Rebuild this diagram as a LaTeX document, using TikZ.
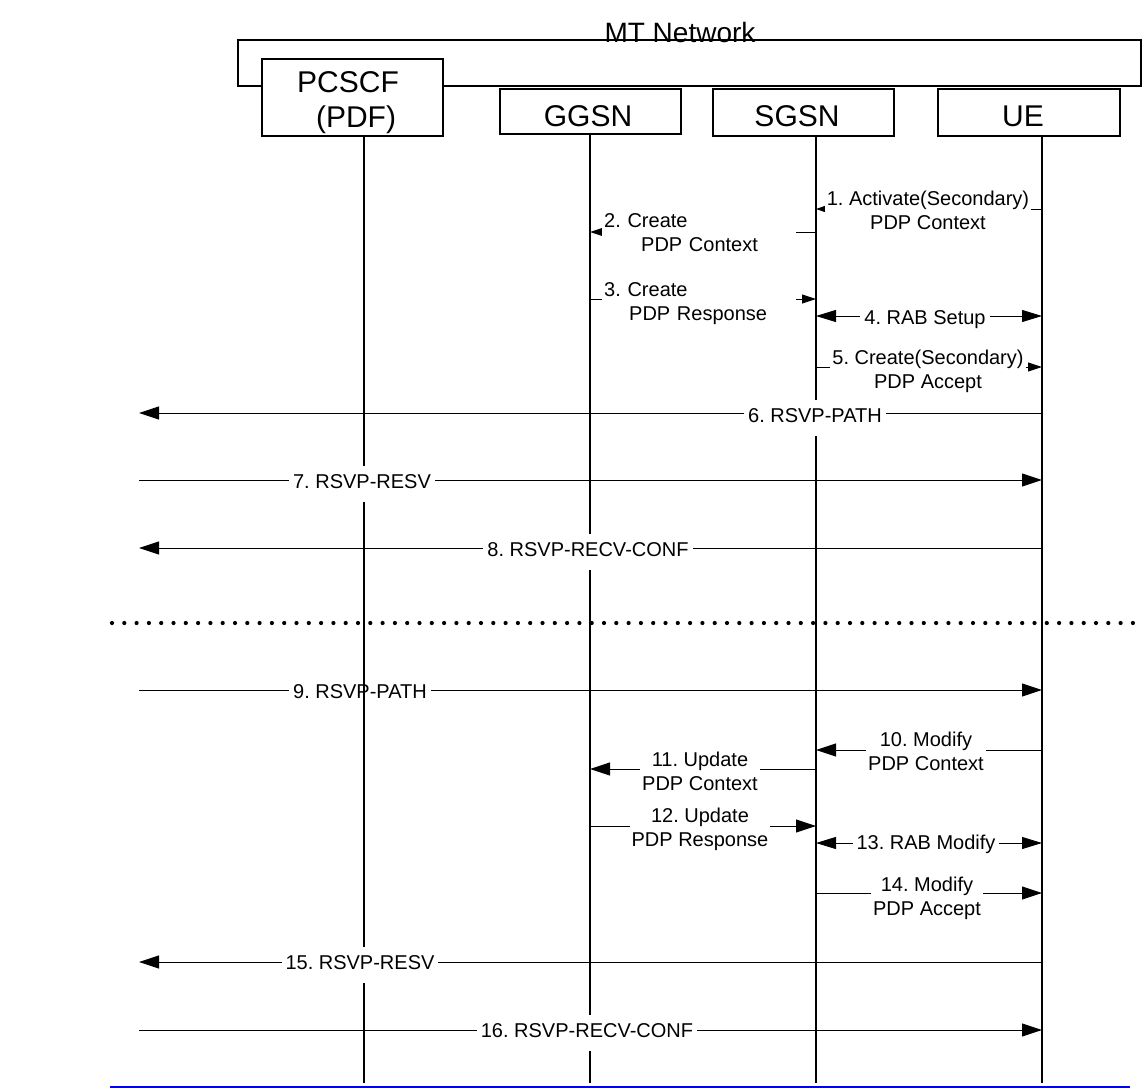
\documentclass[tikz,border=0pt]{standalone}
\usepackage{fontspec}
\setmainfont{Liberation Sans}
\usetikzlibrary{arrows.meta}
\frenchspacing

\begin{document}
\begin{tikzpicture}[x=1pt,y=-1pt,
  entity/.style={draw, line width=1.6pt, fill=white, inner sep=0pt},
  hdr/.style={font=\fontsize{30}{35}\selectfont, inner sep=0pt, anchor=base},
  life/.style={line width=1.4pt},
  msgline/.style={line width=0.9pt},
  lbl/.style={fill=white, inner xsep=4pt, inner ysep=6pt, font=\fontsize{20}{24}\selectfont},
  lbltwo/.style={fill=white, inner xsep=2pt, inner ysep=1pt, align=center, font=\fontsize{20}{24}\selectfont},
  tipS/.style={-{Triangle[length=9pt,width=6pt]}},
  tipM/.style={-{Triangle[length=14pt,width=9pt]}},
  tipB/.style={-{Triangle[length=20pt,width=13pt]}},
  tipBoth/.style={{Triangle[length=20pt,width=12pt]}-{Triangle[length=20pt,width=12pt]}},
  dotline/.style={line width=4.2pt, line cap=round, dash pattern=on 0pt off 12.3pt},
]
\useasboundingbox (0,0) rectangle (1143,1089);

% network frame and entities
\node[draw, line width=1.6pt, minimum width=903pt, minimum height=46pt, inner sep=0pt] (mtnet) at (689.5,63) {};
\node[hdr, font=\fontsize{28}{33}\selectfont] (mtlbl) at (680,43) {MT Network};

\node[entity, minimum width=181pt, minimum height=77pt] (pcscf) at (352.5,97.5) {};
\node[entity, minimum width=181pt, minimum height=45pt] (ggsn) at (590.5,111.5) {};
\node[entity, minimum width=181pt, minimum height=47pt] (sgsn) at (803.5,112.5) {};
\node[entity, minimum width=182pt, minimum height=47pt] (ue) at (1029,112.5) {};

\node[hdr] (pcscfa) at (348,93) {PCSCF};
\node[hdr] (pcscfb) at (356,128) {(PDF)};
\node[hdr] (ggsnl) at (588,127) {GGSN};
\node[hdr] (sgsnl) at (797,127) {SGSN};
\node[hdr] (uel) at (1023,127) {UE};

% lifeline positions
\coordinate (pc) at (364,0);
\coordinate (gg) at (590,0);
\coordinate (sg) at (816,0);
\coordinate (um) at (1042,0);
\coordinate (lf) at (139,0);
\coordinate (bot) at (0,1083);

\draw[life] (pcscf.south -| pc) -- (pc |- bot);
\draw[life] (ggsn.south -| gg) -- (gg |- bot);
\draw[life] (sgsn.south -| sg) -- (sg |- bot);
\draw[life] (ue.south -| um) -- (um |- bot);

% message rows
\coordinate (r1) at (0,209);
\coordinate (r2) at (0,232);
\coordinate (r3) at (0,299);
\coordinate (r4) at (0,316);
\coordinate (r5) at (0,367);
\coordinate (r6) at (0,413);
\coordinate (r7) at (0,480);
\coordinate (r8) at (0,548);
\coordinate (r9) at (0,690);
\coordinate (r10) at (0,750);
\coordinate (r11) at (0,769);
\coordinate (r12) at (0,826);
\coordinate (r13) at (0,843);
\coordinate (r14) at (0,893);
\coordinate (r15) at (0,962);
\coordinate (r16) at (0,1030);

\draw[msgline, tipS] (um |- r1) -- (sg |- r1);
\draw[msgline, tipM] (sg |- r2) -- (gg |- r2);
\draw[msgline, tipM] (gg |- r3) -- (sg |- r3);
\draw[msgline, tipBoth] (sg |- r4) -- (um |- r4);
\draw[msgline, tipM] (sg |- r5) -- (um |- r5);
\draw[msgline, tipB] (um |- r6) -- (lf |- r6);
\draw[msgline, tipB] (lf |- r7) -- (um |- r7);
\draw[msgline, tipB] (um |- r8) -- (lf |- r8);
\draw[msgline, tipB] (lf |- r9) -- (um |- r9);
\draw[msgline, tipB] (um |- r10) -- (sg |- r10);
\draw[msgline, tipB] (sg |- r11) -- (gg |- r11);
\draw[msgline, tipB] (gg |- r12) -- (sg |- r12);
\draw[msgline, tipBoth] (sg |- r13) -- (um |- r13);
\draw[msgline, tipB] (sg |- r14) -- (um |- r14);
\draw[msgline, tipB] (um |- r15) -- (lf |- r15);
\draw[msgline, tipB] (lf |- r16) -- (um |- r16);

% message labels
\node[lbltwo] (l1) at (928,213) {\strut 1. Activate(Secondary)\\\strut PDP Context};
\node[lbltwo, align=left, text width=190pt, anchor=west] (l2) at (602,235) {\strut 2. Create\\\hspace*{37pt}\strut PDP Context};
\node[lbltwo, align=left, text width=190pt, anchor=west] (l3) at (602,304) {\strut 3. Create\\\hspace*{25pt}\strut PDP Response};
\node[lbl] (l4) at (925,320) {\strut 4. RAB Setup};
\node[lbltwo] (l5) at (928,372) {\strut 5. Create(Secondary)\\\strut PDP Accept};
\node[lbl] (l6) at (815,418) {\strut 6. RSVP-PATH\hspace{8pt}};
\node[lbl] (l7) at (362,484) {\strut 7. RSVP-RESV\hspace{6pt}};
\node[lbl] (l8) at (588,552) {\strut 8. RSVP-RECV-CONF\hspace{6pt}};
\node[lbl] (l9) at (360,694) {\strut 9. RSVP-PATH\hspace{14pt}};
\node[lbltwo] (l10) at (926,754) {\strut 10. Modify\\\strut PDP Context};
\node[lbltwo] (l11) at (700,774) {\strut 11. Update\\\strut PDP Context};
\node[lbltwo] (l12) at (700,830) {\strut 12. Update\\\strut PDP Response};
\node[lbl] (l13) at (926,845) {\strut 13. RAB Modify};
\node[lbltwo] (l14) at (927,899) {\strut 14. Modify\\\strut PDP Accept};
\node[lbl] (l15) at (360,965) {\strut 15. RSVP-RESV\hspace{8pt}};
\node[lbl] (l16) at (587,1033) {\strut 16. RSVP-RECV-CONF\hspace{8pt}};

% the PCSCF lifeline runs through the ninth label
\draw[life] (l9.north -| pc) -- (l9.south -| pc);

% phase separator and page rule
\coordinate (dl) at (112,623);
\coordinate (dr) at (1143,623);
\draw[dotline] (dl) -- (dr);
\coordinate (bl) at (110,1087);
\coordinate (br) at (1130,1087);
\draw[blue, line width=2pt] (bl) -- (br);
\end{tikzpicture}
\end{document}
